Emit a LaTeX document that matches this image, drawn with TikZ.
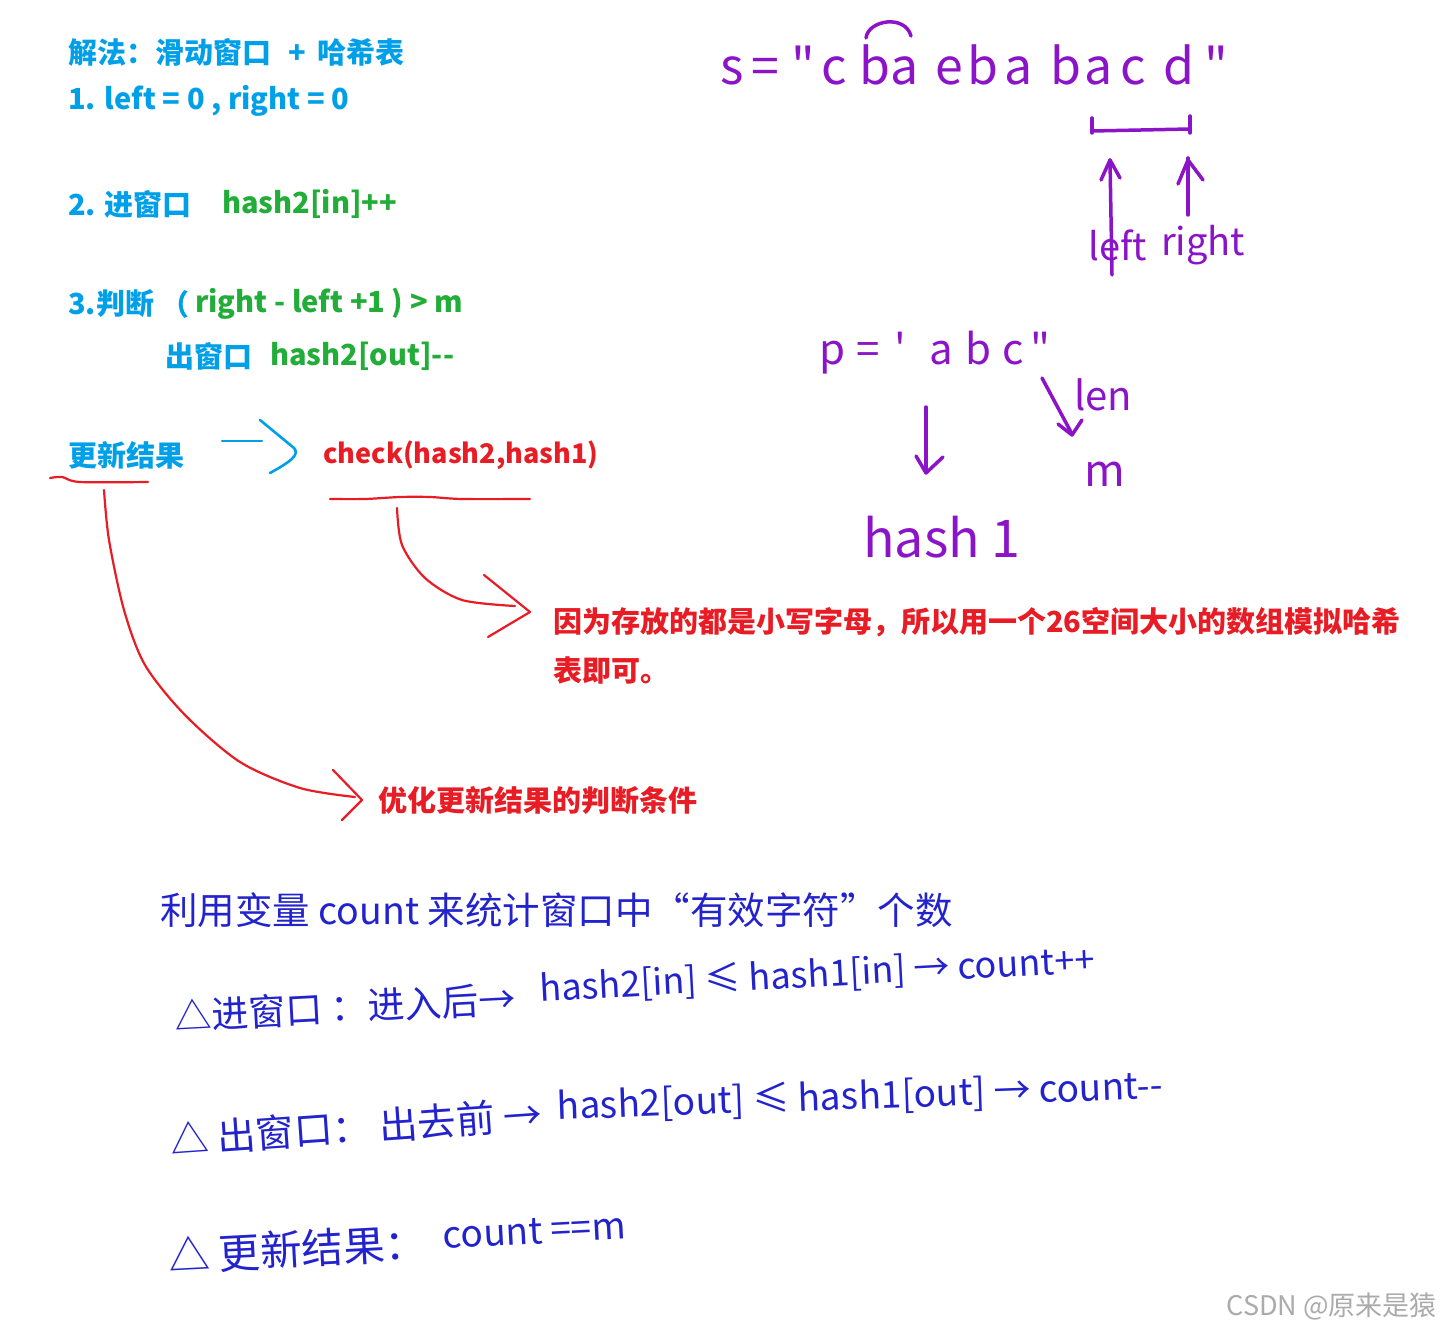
\documentclass[tikz,border=0pt]{standalone}
\usepackage{fontspec}
\setmainfont{Noto Sans CJK SC}
\newfontfamily\hw{Noto Sans CJK SC}
\usetikzlibrary{arrows.meta,calc}
\definecolor{pblue}{RGB}{0,160,233}
\definecolor{pgreen}{RGB}{34,172,56}
\definecolor{pred}{RGB}{232,28,36}
\definecolor{ppurple}{RGB}{140,20,200}
\definecolor{hblue}{RGB}{35,35,205}
\tikzset{
  prt/.style={inner sep=0pt, anchor=west, font=\bfseries\fontsize{29}{34}\selectfont},
  hwt/.style={inner sep=0pt, anchor=west, text=hblue},
  pch/.style={inner sep=0pt, anchor=base, text=ppurple, font=\hw\fontsize{50}{56}\selectfont},
  pline/.style={draw=ppurple, line width=3.5pt, line cap=round, line join=round},
  rline/.style={draw=pred, line width=2.2pt, line cap=round, line join=round},
  bline/.style={draw=pblue, line width=2.6pt, line cap=round, line join=round},
}
\begin{document}
\begin{tikzpicture}[x=1pt,y=-1pt]
\useasboundingbox[fill=white] (0,0) rectangle (1441,1332);

% printed text
\node[prt,text=pblue] (t0) at (68,52) {解法：滑动窗口\hspace{0.6em}+\hspace{0.4em}哈希表};
\node[prt,text=pblue] (t1) at (68,101) {1. left = 0 , right = 0};
\node[prt,text=pblue] (t2a) at (68,204) {2. 进窗口};
\node[prt,text=pgreen] (t2b) at (222,204) {hash2[in]++};
\node[prt,text=pblue] (t3a) at (68,304) {3.判断};
\node[prt,text=pblue] (t3p) at (160,304) {（};
\node[prt,text=pgreen] (t3b) at (195,304) {right - left +1 ) > m};
\node[prt,text=pblue] (t4a) at (165,356) {出窗口};
\node[prt,text=pgreen] (t4b) at (270,356) {hash2[out]-{}-};
\node[prt,text=pblue] (t5) at (68,455) {更新结果};
\node[prt,text=pred,font=\bfseries\fontsize{27}{32}\selectfont] (t6) at (323,455) {check(hash2,hash1)};
\node[prt,text=pred] (t7a) at (553,622) {因为存放的都是小写字母，所以用一个26空间大小的数组模拟哈希};
\node[prt,text=pred] (t7b) at (553,670) {表即可。};
\node[prt,text=pred] (t8) at (378,801) {优化更新结果的判断条件};

% blue hand arrow
\coordinate (ba0) at (222,441);
\coordinate (ba1) at (262,441);
\draw[bline] (ba0) -- (ba1);
\draw[bline] (260,420) -- (294,448) .. controls (300,455) and (290,462) .. (270,473);

% red underlines and curved arrows
\draw[rline] plot[smooth] coordinates {(50,478) (62,477) (80,482) (148,482)};
\draw[rline] plot[smooth] coordinates {(330,499) (365,499) (400,497) (430,497) (462,499) (530,499)};
\draw[rline] plot[smooth] coordinates {(397,508) (402,545) (425,578) (462,600) (515,606)};
\draw[rline] (484,575) -- (530,612) -- (488,637);
\draw[rline] plot[smooth] coordinates {(104,490) (109,540) (124,610) (145,665) (185,715) (240,762) (300,788) (355,797)};
\draw[rline] (333,770) -- (362,800) -- (342,820);

% purple: s string
\foreach \x/\c [count=\i] in {732/s,765/=,803/{"},834/c,875/b,905/a,949/e,983/b,1019/a,1066/b,1099/a,1133/c,1179/d,1216/{"}}
  \node[pch] (s\i) at (\x,85) {\c};
\draw[pline] (866,38) .. controls (868,20) and (905,14) .. (911,36);
\draw[pline] (1092,118) -- (1092,133);
\draw[pline] (1092,131) -- (1190,129);
\draw[pline] (1190,116) -- (1190,133);
\node[pch, anchor=west, font=\hw\fontsize{38}{44}\selectfont] (lt) at (1088,245) {left};
\node[pch, anchor=west, font=\hw\fontsize{38}{44}\selectfont] (rt) at (1161,245) {right};
\draw[pline] (1112,275) -- (1110,160);
\draw[pline] (1101,180) -- (1110,160) -- (1120,178);
\draw[pline] (1188,215) -- (1188,158);
\draw[pline] (1178,184) -- (1188,160) -- (1203,180);

% purple: p string
\foreach \x/\c [count=\i] in {833/p,868/=,900/{'},941/a,978/b,1013/c,1040/{"}}
  \node[pch, font=\hw\fontsize{42}{46}\selectfont] (p\i) at (\x,365) {\c};
\draw[pline] (926,407) -- (926,472);
\draw[pline] (916,456) -- (926,473) -- (943,457);
\node[pch, anchor=base west, font=\hw\fontsize{52}{56}\selectfont] (h1) at (863,557) {hash 1};
\draw[pline] (1042,378) -- (1072,434);
\draw[pline] (1058,424) -- (1072,435) -- (1082,420);
\node[pch, anchor=base west, font=\hw\fontsize{40}{44}\selectfont] (len) at (1074,410) {len};
\node[pch, anchor=base west, font=\hw\fontsize{44}{48}\selectfont] (mm) at (1084,486) {m};

% handwritten blue notes
\node[hwt, font=\hw\fontsize{37.5}{44}\selectfont] (n1) at (160,910) {利用变量 count 来统计窗口中“有效字符”个数};
\node[hwt, font=\hw\fontsize{37}{42}\selectfont, rotate=3] (n2a) at (175,1016) {△进窗口 ：进入后→};
\node[hwt, font=\hw\fontsize{36}{42}\selectfont, rotate=3] (n2b) at (540,990) {hash2[in] ≤ hash1[in] → count++};
\node[hwt, font=\hw\fontsize{38.5}{44}\selectfont, rotate=4] (n3a) at (170,1140) {△ 出窗口： 出去前 →};
\node[hwt, font=\hw\fontsize{37}{42}\selectfont, rotate=2] (n3b) at (557,1108) {hash2[out] ≤ hash1[out] → count-{}-};
\node[hwt, font=\hw\fontsize{41.5}{46}\selectfont, rotate=3] (n4a) at (168,1256) {△ 更新结果：};
\node[hwt, font=\hw\fontsize{37}{42}\selectfont, rotate=3] (n4b) at (443,1236) {count ==m};

% watermark
\node[inner sep=0pt, anchor=east, text=black!33, font=\fontsize{27}{30}\selectfont] (wm) at (1437,1306) {CSDN @原来是猿};
\end{tikzpicture}
\end{document}
